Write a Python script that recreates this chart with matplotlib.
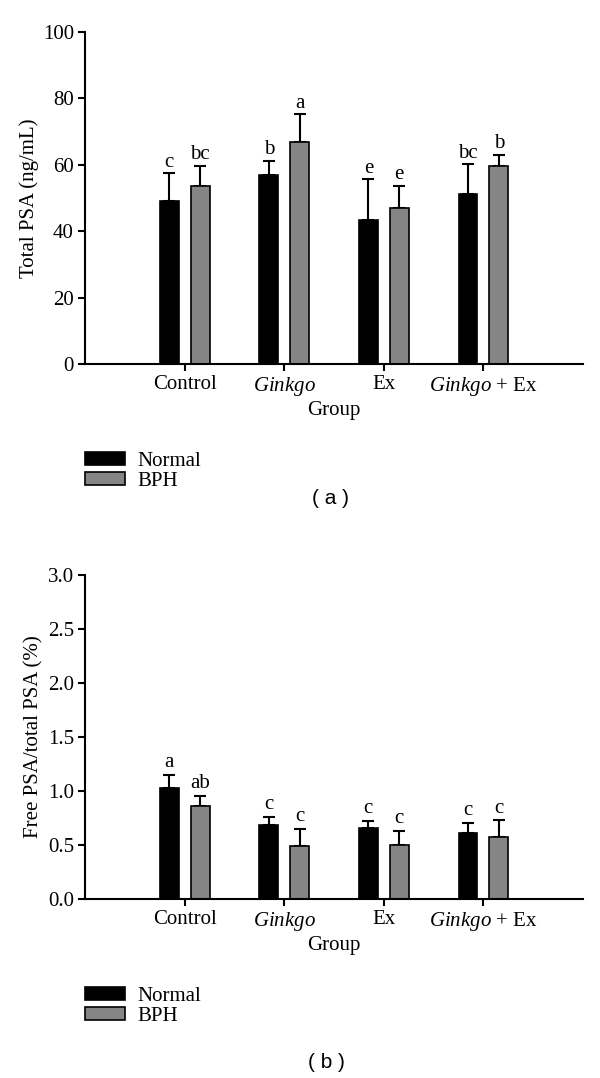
import matplotlib
matplotlib.use("Agg")
import matplotlib.pyplot as plt
import numpy as np
from matplotlib.patches import Patch

groups = ["Control", "$\\it{Ginkgo}$", "Ex", "$\\it{Ginkgo}$ + Ex"]
series = ["Normal", "BPH"]

psa_normal = [49.2, 56.9, 43.5, 51.3]
psa_normal_err = [8.2, 4.3, 12.1, 8.8]
psa_bph = [53.5, 66.8, 47.1, 59.7]
psa_bph_err = [6.2, 8.5, 6.6, 3.4]
psa_normal_letters = ["c", "b", "e", "bc"]
psa_bph_letters = ["bc", "a", "e", "b"]

ratio_normal = [1.03, 0.685, 0.655, 0.615]
ratio_normal_err = [0.12, 0.075, 0.065, 0.09]
ratio_bph = [0.865, 0.495, 0.497, 0.577]
ratio_bph_err = [0.09, 0.155, 0.135, 0.15]
ratio_normal_letters = ["a", "c", "c", "c"]
ratio_bph_letters = ["ab", "c", "c", "c"]

plt.rcParams['font.family'] = ['Liberation Serif', 'DejaVu Serif']
plt.rcParams['mathtext.fontset'] = 'custom'
plt.rcParams['mathtext.it'] = 'Liberation Serif:italic'
plt.rcParams['mathtext.rm'] = 'Liberation Serif'

W, H = 600, 1078
fig = plt.figure(figsize=(W / 100, H / 100), dpi=100)

BLACK = "#000000"
GRAY = "#858585"
FS = 15


def ax_rect(left, right, top, bottom):
    return [left / W, 1 - bottom / H, (right - left) / W, (bottom - top) / H]


def draw(ax, nv, ne, bv, be, nl, bl, ylim, yticks, ylabel, letter_off):
    x = np.arange(1, len(groups) + 1)
    w = 0.19
    off = 0.155
    ax.bar(x - off, nv, w, color=BLACK, edgecolor=BLACK, linewidth=1.2, zorder=2)
    ax.bar(x + off, bv, w, color=GRAY, edgecolor=BLACK, linewidth=1.2, zorder=2)
    ax.errorbar(x - off, nv, yerr=[np.zeros(len(nv)), ne], fmt='none',
                ecolor=BLACK, elinewidth=1.5, capsize=4.5, capthick=1.5, zorder=1)
    ax.errorbar(x + off, bv, yerr=[np.zeros(len(bv)), be], fmt='none',
                ecolor=BLACK, elinewidth=1.5, capsize=4.5, capthick=1.5, zorder=1)
    for xi, v, e, t in zip(x - off, nv, ne, nl):
        ax.annotate(t, (xi, v + e), xytext=(0, letter_off), textcoords='offset points',
                    ha='center', va='bottom', fontsize=FS)
    for xi, v, e, t in zip(x + off, bv, be, bl):
        ax.annotate(t, (xi, v + e), xytext=(0, letter_off), textcoords='offset points',
                    ha='center', va='bottom', fontsize=FS)
    ax.set_xlim(0, 5)
    ax.set_ylim(*ylim)
    ax.set_yticks(yticks)
    ax.set_xticks(x)
    ax.set_xticklabels(groups, fontsize=FS)
    ax.tick_params(axis='both', labelsize=FS, direction='out', length=5, width=1.5, pad=3)
    for s in ['top', 'right']:
        ax.spines[s].set_visible(False)
    for s in ['left', 'bottom']:
        ax.spines[s].set_linewidth(1.5)
    ax.set_ylabel(ylabel, fontsize=FS, labelpad=3)
    ax.set_xlabel("Group", fontsize=FS, labelpad=2)


ax1 = fig.add_axes(ax_rect(85, 583, 32, 364))
draw(ax1, psa_normal, psa_normal_err, psa_bph, psa_bph_err,
     psa_normal_letters, psa_bph_letters, (0, 100), [0, 20, 40, 60, 80, 100],
     "Total PSA (ng/mL)", 1)
ax1.set_yticklabels(["0", "20", "40", "60", "80", "100"])

ax2 = fig.add_axes(ax_rect(85, 583, 575, 899))
draw(ax2, ratio_normal, ratio_normal_err, ratio_bph, ratio_bph_err,
     ratio_normal_letters, ratio_bph_letters, (0, 3.0), [0, 0.5, 1.0, 1.5, 2.0, 2.5, 3.0],
     "Free PSA/total PSA (%)", 2)
ax2.set_yticklabels(["0.0", "0.5", "1.0", "1.5", "2.0", "2.5", "3.0"])

handles = [Patch(facecolor=BLACK, edgecolor=BLACK, linewidth=1.2, label=series[0]),
           Patch(facecolor=GRAY, edgecolor=BLACK, linewidth=1.2, label=series[1])]

for ytop in (452, 987):
    fig.legend(handles=handles, loc='upper left',
               bbox_to_anchor=(85 / W, 1 - ytop / H), frameon=False,
               fontsize=FS, handlelength=1.92, handleheight=0.55,
               handletextpad=0.6, labelspacing=0.05, borderpad=0, borderaxespad=0)

fig.text(330 / W, 1 - 499 / H, "( a )", ha='center', va='center', fontsize=15,
         family=['Liberation Sans', 'DejaVu Sans'])
fig.text(326 / W, 1 - 1063 / H, "( b )", ha='center', va='center', fontsize=15,
         family=['Liberation Sans', 'DejaVu Sans'])

fig.savefig("out.png", dpi=100)
